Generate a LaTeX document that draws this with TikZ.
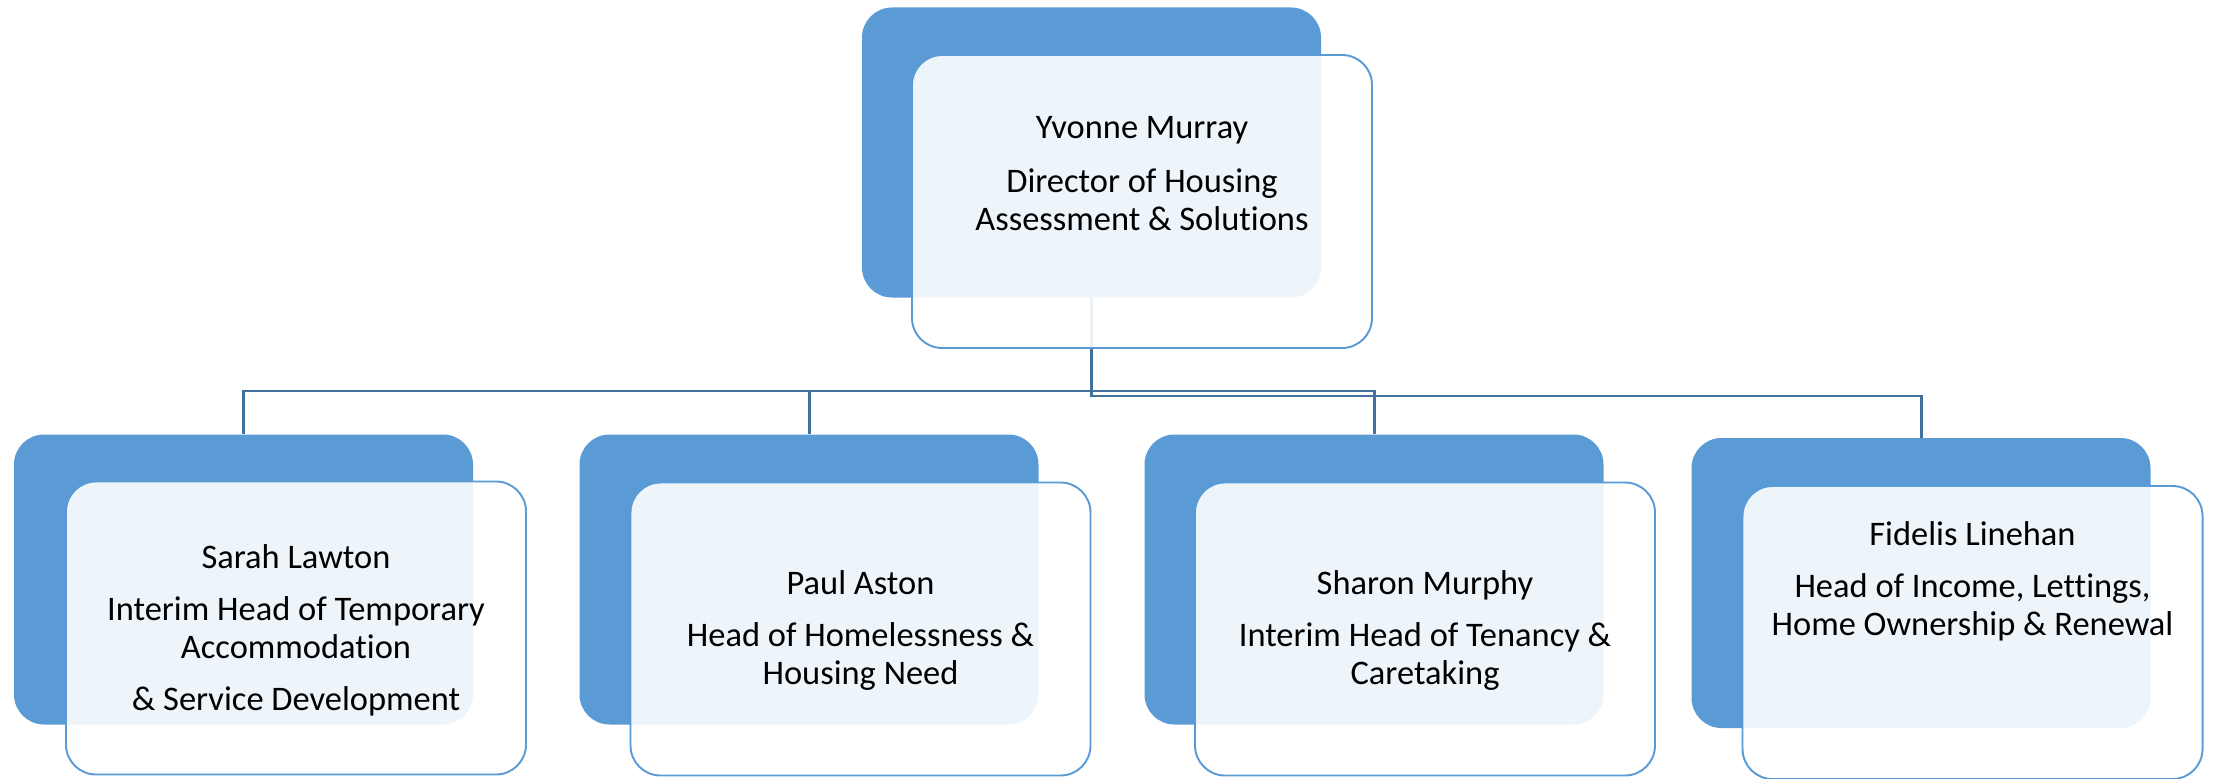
\documentclass[tikz,border=0pt]{standalone}
\usepackage{fontspec}
\setmainfont{Carlito}[RawFeature=-liga]
\definecolor{boxblue}{HTML}{5B9BD5}
\definecolor{linkblue}{HTML}{41719C}
\begin{document}
\begin{tikzpicture}[
        backbox/.style={fill=boxblue, rounded corners=0.6cm, minimum width=9.18cm, minimum height=5.8cm, inner sep=0pt},
        frontbox/.style={draw=boxblue, line width=1.1pt, fill=white, fill opacity=0.9, rounded corners=0.6cm, minimum width=9.2cm, minimum height=5.86cm, inner sep=0pt},
        link/.style={draw=linkblue, line width=1.7pt},
        boxtext/.style={anchor=north, align=center, inner sep=0pt, font=\fontsize{19.6}{21.4}\selectfont}
    ]
            \useasboundingbox (0,0) rectangle (44.32,-15.56);
            \node[backbox] (murrayBack) at (21.83,-3.05) {};
            \node[backbox] (lawtonBack) at (4.87,-11.59) {};
            \node[backbox] (astonBack) at (16.18,-11.59) {};
            \node[backbox] (murphyBack) at (27.48,-11.59) {};
            \node[backbox] (linehanBack) at (38.42,-11.66) {};
            \draw[link] (lawtonBack.north) |- (murphyBack.north |- 0,-7.82) -- (murphyBack.north);
            \draw[link] (astonBack.north) -- (astonBack.north |- 0,-7.82);
            \draw[link] (murrayBack.south) |- (linehanBack.north |- 0,-7.92) -- (linehanBack.north);
            \node[frontbox] (murrayFront) at (22.84,-4.03) {};
            \node[frontbox] (lawtonFront) at (5.92,-12.56) {};
            \node[frontbox] (astonFront) at (17.21,-12.58) {};
            \node[frontbox] (murphyFront) at (28.5,-12.58) {};
            \node[frontbox] (linehanFront) at (39.45,-12.65) {};
            \node[boxtext] (murrayText) at (22.84,-2.32) {Yvonne Murray\\[9.5pt]Director of Housing\\Assessment \& Solutions};
            \node[boxtext] (lawtonText) at (5.92,-10.88) {Sarah Lawton\\[8.5pt]Interim Head of Temporary\\Accommodation\\[8.5pt]\& Service Development};
            \node[boxtext] (astonText) at (17.21,-11.4) {Paul Aston\\[8.5pt]Head of Homelessness \&\\Housing Need};
            \node[boxtext] (murphyText) at (28.5,-11.4) {Sharon Murphy\\[8.5pt]Interim Head of Tenancy \&\\Caretaking};
            \node[boxtext] (linehanText) at (39.45,-10.42) {Fidelis Linehan\\[8.5pt]Head of Income, Lettings,\\Home Ownership \& Renewal};
        \end{tikzpicture}
\end{document}
